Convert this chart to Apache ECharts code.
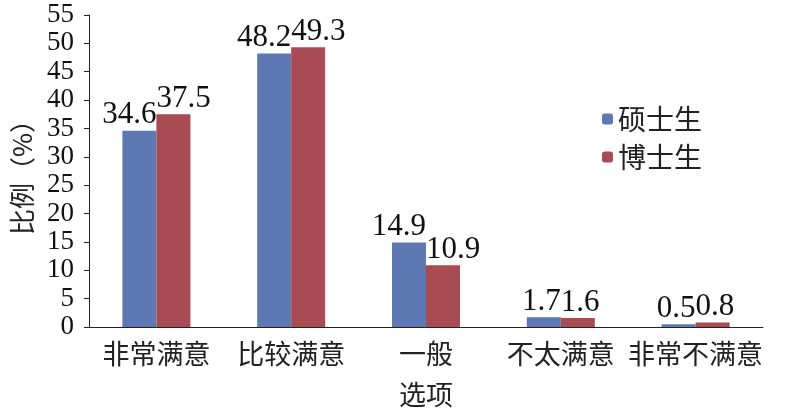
<!DOCTYPE html>
<html>
<head>
<meta charset="utf-8">
<script src="https://cdn.jsdelivr.net/npm/echarts@6/dist/echarts.min.js"></script>
<style>html,body{margin:0;padding:0;background:#fff}#c{width:787px;height:416px}</style>
</head>
<body>
<div id="c"></div>
<script>
const categories = ['非常满意', '比较满意', '一般', '不太满意', '非常不满意'];
const master = [34.6, 48.2, 14.9, 1.7, 0.5];
const doctor = [37.5, 49.3, 10.9, 1.6, 0.8];
const seriesNames = ['硕士生', '博士生'];
const yTicks = {min: 0, max: 55, interval: 5};

const chart = echarts.init(document.getElementById('c'));
const serif = '"Liberation Serif", "Times New Roman", serif';
const cjk = '"Noto Sans CJK SC", sans-serif';
const BW = 34;
chart.setOption({
  animation: false,
  grid: {left: 89, top: 15, right: 24, bottom: 89, outerBoundsMode: 'none', containLabel: false},
  legend: {
    orient: 'vertical', left: 597, top: 100, itemWidth: 11, itemHeight: 11, itemGap: 10,
    textStyle: {fontFamily: cjk, fontSize: 28, color: '#222'},
    data: seriesNames
  },
  xAxis: {
    type: 'category', data: categories,
    axisLine: {lineStyle: {color: '#222', width: 1}},
    axisTick: {show: false},
    axisLabel: {fontFamily: cjk, fontSize: 27, color: '#222', margin: 13, interval: 0, hideOverlap: false},
    name: '选项', nameLocation: 'middle', nameGap: 54,
    nameTextStyle: {fontFamily: cjk, fontSize: 27, color: '#222'}
  },
  yAxis: {
    type: 'value', min: yTicks.min, max: yTicks.max, interval: yTicks.interval,
    splitLine: {show: false},
    axisLine: {show: true, lineStyle: {color: '#222', width: 1}},
    axisTick: {show: true, inside: false, length: 5, lineStyle: {color: '#222'}},
    axisLabel: {fontFamily: serif, fontSize: 27, color: '#111', margin: 15},
    name: '比例（%）', nameLocation: 'middle', nameGap: 54, nameRotate: 90,
    nameTextStyle: {fontFamily: cjk, fontSize: 26, color: '#222'}
  },
  series: [
    {
      name: seriesNames[0], type: 'bar', data: master, barWidth: BW, barGap: '0%',
      itemStyle: {color: '#5d78b3'},
      label: {show: true, position: 'top', distance: 0, align: 'right', offset: [BW / 2, 0],
        fontFamily: serif, fontSize: 31, color: '#111'}
    },
    {
      name: seriesNames[1], type: 'bar', data: doctor, barWidth: BW, barGap: '0%',
      itemStyle: {color: '#a84b52'},
      label: {show: true, position: 'top', distance: 0, align: 'left', offset: [-BW / 2, 0],
        fontFamily: serif, fontSize: 31, color: '#111'}
    }
  ]
});
</script>
</body>
</html>
